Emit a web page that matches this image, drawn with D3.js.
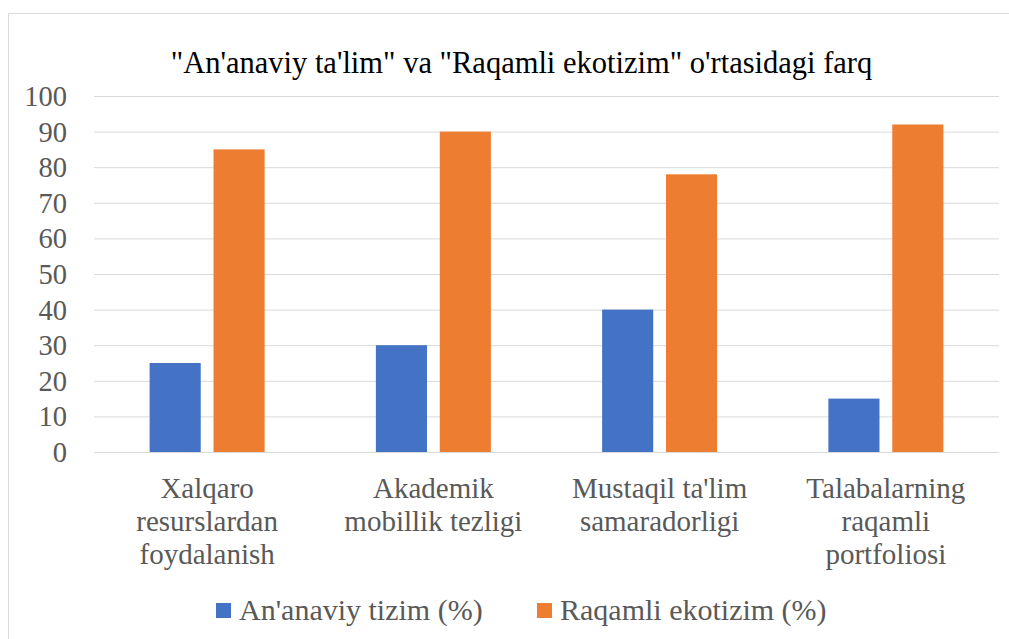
<!DOCTYPE html>
<html>
<head>
<meta charset="utf-8">
<script src="https://cdn.jsdelivr.net/npm/d3@7"></script>
<style>
  body { margin: 0; background: #fff; }
  #chart-area { width: 1009px; height: 639px; }
</style>
</head>
<body>
<div id="chart-area"></div>
<script>
const title = "\"An'anaviy ta'lim\" va \"Raqamli ekotizim\" o'rtasidagi farq";
const categories = [
  ["Xalqaro", "resurslardan", "foydalanish"],
  ["Akademik", "mobillik tezligi"],
  ["Mustaqil ta'lim", "samaradorligi"],
  ["Talabalarning", "raqamli", "portfoliosi"]
];
const seriesNames = ["An'anaviy tizim (%)", "Raqamli ekotizim (%)"];
const traditional = [25, 30, 40, 15];
const digital = [85, 90, 78, 92];
const yTicks = [0, 10, 20, 30, 40, 50, 60, 70, 80, 90, 100];
const colors = ["#4472C4", "#ED7D31"];

const FONT = "Liberation Serif";
const width = 1009, height = 639;
const plot = { left: 94, right: 999, top: 96, bottom: 452 };

const svg = d3.select('#chart-area').append('svg').attr('width', width).attr('height', height)
  .attr('font-family', FONT);

// outer frame
svg.append('rect').attr('x', 8.5).attr('y', 13.5).attr('width', 1010).attr('height', 640)
  .attr('fill', 'none').attr('stroke', '#d9d9d9').attr('stroke-width', 1);

svg.append('text').attr('x', 521.5).attr('y', 73).attr('text-anchor', 'middle')
  .attr('font-family', FONT).attr('font-size', 30.5).attr('fill', '#000').text(title);

const x = d3.scaleBand().domain(d3.range(categories.length)).range([plot.left, plot.right]);
const y = d3.scaleLinear().domain([0, 100]).range([plot.bottom, plot.top]);
const xs = d3.scaleBand().domain([0, 1]).range([0, 115]).paddingInner(0.2);

// gridlines + y labels
const yAxis = d3.axisLeft(y).tickValues(yTicks).tickSize(-(plot.right - plot.left)).tickPadding(27);
svg.append('g').attr('transform', `translate(${plot.left},0)`).call(yAxis)
  .attr('font-family', FONT)
  .call(g => g.select('.domain').remove())
  .call(g => g.selectAll('line').attr('stroke', '#d9d9d9').attr('stroke-width', 1))
  .call(g => g.selectAll('text').attr('font-size', 28.5).attr('fill', '#595959')
    .attr('font-family', FONT).attr('dy', '0.33em'));

// bars
const seriesData = [traditional, digital];
seriesData.forEach((vals, s) => {
  svg.append('g').selectAll('rect').data(vals).enter().append('rect')
    .attr('x', (d, i) => x(i) + x.bandwidth() / 2 - 57.5 + xs(s))
    .attr('width', xs.bandwidth())
    .attr('y', d => y(d))
    .attr('height', d => y(0) - y(d))
    .attr('fill', colors[s]);
});

// category labels
const catG = svg.append('g');
categories.forEach((lines, i) => {
  const t = catG.append('text').attr('text-anchor', 'middle').attr('font-size', 29)
    .attr('font-family', FONT).attr('fill', '#595959');
  lines.forEach((ln, j) => {
    t.append('tspan').attr('x', x(i) + x.bandwidth() / 2).attr('y', 498 + j * 33).text(ln);
  });
});

// legend
const legendX = [216, 537];
seriesNames.forEach((name, s) => {
  svg.append('rect').attr('x', legendX[s]).attr('y', 603).attr('width', 15).attr('height', 15).attr('fill', colors[s]);
  svg.append('text').attr('x', legendX[s] + 23).attr('y', 620).attr('font-size', 30)
    .attr('font-family', FONT).attr('fill', '#595959').text(name);
});
</script>
</body>
</html>
